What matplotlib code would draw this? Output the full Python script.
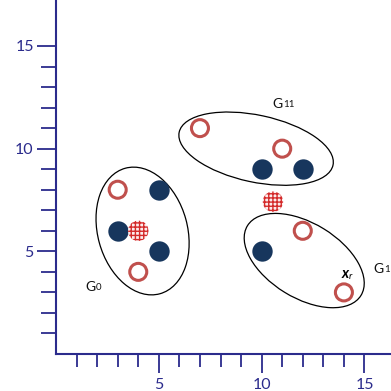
import matplotlib
matplotlib.use("Agg")
import matplotlib.pyplot as plt
from matplotlib.patches import Ellipse
import numpy as np

plt.rcParams['font.family'] = ['Lato', 'DejaVu Sans']
plt.rcParams['hatch.linewidth'] = 1.0

# Points of the two classes and the two hatched prototypes
blue_x = [5, 3, 5, 10, 10, 12]
blue_y = [8, 6, 5, 5, 9, 9]
red_x = [3, 4, 7, 11, 12, 14]
red_y = [8, 4, 11, 10, 6, 3]
proto_x = [4, 10.55]
proto_y = [6, 7.42]

# Group ellipses: name, centre, width, height, angle
groups = ['G0', 'G11', 'G1']
group_centers = [(4.21, 5.99), (9.73, 10.0), (12.07, 4.55)]
group_widths = [4.36, 7.65, 6.48]
group_heights = [6.34, 3.26, 3.63]
group_angles = [15.4, -12.1, -31.6]

# Group labels: main letter, subscript, baseline position
label_main = ['G', 'G', 'G']
label_sub = ['0', '11', '1']
label_pos = [(1.44, 3.08), (10.52, 11.97), (15.43, 3.93)]

axis_color = '#2b2b8c'
navy = '#17365d'
red = '#c0504d'

fig = plt.figure(figsize=(3.91, 3.91), dpi=100)
ax = fig.add_axes([56 / 391, 37 / 391, 335 / 391, 354 / 391])
ax.set_xlim(0, 16.29)
ax.set_ylim(0, 17.24)

for side in ['top', 'right']:
    ax.spines[side].set_visible(False)
for side in ['left', 'bottom']:
    ax.spines[side].set_color(axis_color)
    ax.spines[side].set_linewidth(1.5)

ax.set_xticks([5, 10, 15])
ax.set_yticks([5, 10, 15])
ax.set_xticks([1, 2, 3, 4, 6, 7, 8, 9, 11, 12, 13, 14], minor=True)
ax.set_yticks([1, 2, 3, 4, 6, 7, 8, 9, 11, 12, 13, 14], minor=True)
ax.tick_params(axis='both', which='both', direction='out', color=axis_color,
               width=1.3, labelcolor=axis_color, labelsize=11.5)
ax.tick_params(axis='x', which='major', length=14, pad=3)
ax.tick_params(axis='x', which='minor', length=9.5)
ax.tick_params(axis='y', which='major', length=14, pad=2)
ax.tick_params(axis='y', which='minor', length=10.5)

for (c, w, h, a) in zip(group_centers, group_widths, group_heights, group_angles):
    ax.add_patch(Ellipse(c, w, h, angle=a, fill=False, edgecolor='black',
                         linewidth=0.9, zorder=1))

ax.scatter(blue_x, blue_y, s=215, color=navy, linewidths=0, zorder=3)
ax.scatter(red_x, red_y, s=150, facecolors='none', edgecolors=red,
           linewidths=2.2, zorder=3)
ax.scatter(proto_x, proto_y, s=215, facecolors='#fcecec', edgecolors='#d42a2a',
           hatch='++++', linewidths=0, zorder=4)

for main, sub, (x, y) in zip(label_main, label_sub, label_pos):
    t = ax.text(x, y, main, fontsize=10, color='#111111', ha='left',
                va='baseline')
    ax.annotate(sub, xy=(1, 0), xycoords=t, xytext=(0.3, 0.6),
                textcoords='offset points', fontsize=7, color='#111111',
                ha='left', va='bottom')

tx = ax.text(13.89, 3.72, 'x', fontsize=10.5, fontweight='bold',
             style='italic', color='black', ha='left', va='baseline')
ax.annotate('r', xy=(1, 0), xycoords=tx, xytext=(0, -0.5),
            textcoords='offset points', fontsize=7, style='italic',
            color='black', ha='left', va='bottom')

fig.savefig('out.png', dpi=100)
